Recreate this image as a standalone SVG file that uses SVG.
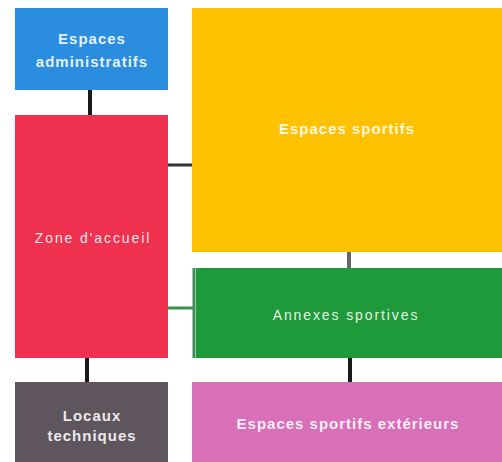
<svg xmlns="http://www.w3.org/2000/svg" width="502" height="462" viewBox="0 0 502 462">
<style>
.t{font-family:"Liberation Sans",Arial,sans-serif;fill:#fff;fill-opacity:0.9;text-anchor:middle}
.b{font-weight:bold;font-size:15px;letter-spacing:1px}
.n{font-size:14px;letter-spacing:1.9px}
.c{fill:none;stroke-width:4}
</style>
<rect width="502" height="462" fill="#fff"/>
<g id="connectors">
<line class="c" x1="90" y1="90" x2="90" y2="116" stroke="#1a1a1a"/>
<line class="c" x1="87" y1="357" x2="87" y2="383" stroke="#1a1a1a"/>
<line class="c" x1="350" y1="357" x2="350" y2="383" stroke="#1a1a1a"/>
<line class="c" x1="349" y1="251" x2="349" y2="269" stroke="#666"/>
<line x1="167" y1="165" x2="192" y2="165" stroke="#333" stroke-width="3"/>
<line x1="167" y1="308" x2="194" y2="308" stroke="#3d8c50" stroke-width="3"/>
<line x1="194" y1="268" x2="194" y2="358" stroke="#3d8c50" stroke-width="3"/>
</g>
<g id="espaces-administratifs">
<rect x="15" y="8" width="153" height="82" fill="#2a8de0"/>
<text class="t b" x="92" y="44">Espaces</text>
<text class="t b" x="92" y="67">administratifs</text>
</g>
<g id="zone-accueil">
<rect x="15" y="115" width="153" height="243" fill="#f0304f"/>
<text class="t n" x="93" y="243">Zone d'accueil</text>
</g>
<g id="espaces-sportifs">
<rect x="192" y="8" width="310" height="244" fill="#ffc200"/>
<text class="t b" x="347" y="134">Espaces sportifs</text>
</g>
<g id="annexes-sportives">
<rect x="196" y="268" width="306" height="90" fill="#1e9a3a"/>
<text class="t n" x="346" y="320">Annexes sportives</text>
</g>
<g id="locaux-techniques">
<rect x="15" y="382" width="153" height="80" fill="#5e565c"/>
<text class="t b" x="92" y="421">Locaux</text>
<text class="t b" x="92" y="441">techniques</text>
</g>
<g id="espaces-sportifs-exterieurs">
<rect x="192" y="382" width="310" height="80" fill="#d86fb8"/>
<text class="t b" x="348" y="429">Espaces sportifs extérieurs</text>
</g>
</svg>
